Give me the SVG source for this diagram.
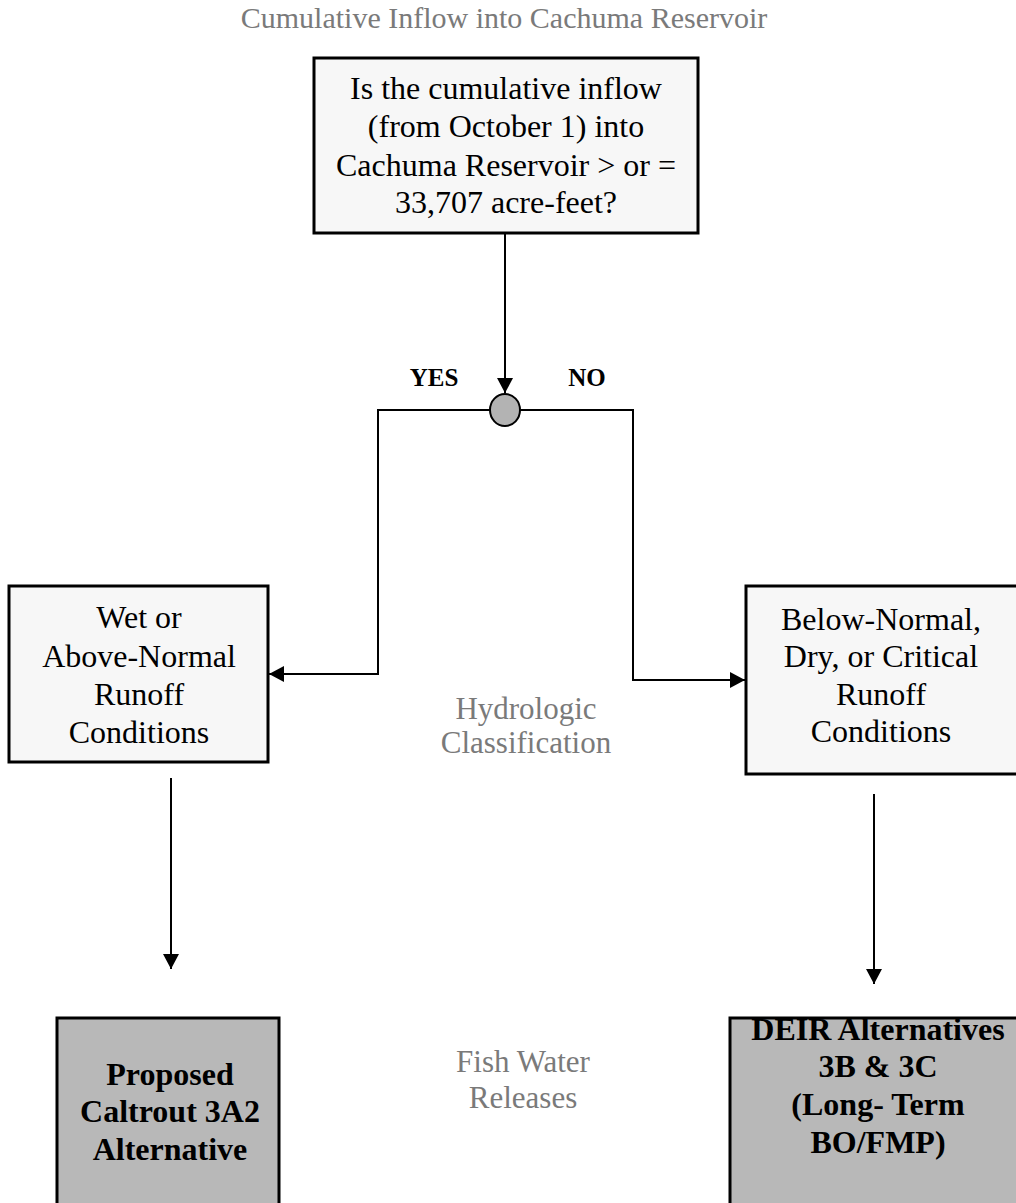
<svg xmlns="http://www.w3.org/2000/svg" width="1016" height="1203" viewBox="0 0 1016 1203">
<style>
.box{fill:#f7f7f7;stroke:#000;stroke-width:3}
.dark{fill:#b8b8b8;stroke:#000;stroke-width:3}
.t{font-family:"Liberation Serif","Times New Roman",serif;font-size:32px;fill:#000;text-anchor:middle}
.b{font-weight:bold}
.g{fill:#7a7a7a;font-size:31px}
.lbl{font-size:25px}
.c{fill:none;stroke:#000;stroke-width:2}
</style>
<defs>
<marker id="ah" markerUnits="userSpaceOnUse" markerWidth="16" markerHeight="16" refX="15" refY="8" orient="auto">
<path d="M0,0 L15,8 L0,16 Z" fill="#000"/>
</marker>
</defs>
<rect width="1016" height="1203" fill="#fff"/>
<text class="t g" x="504" y="28" style="font-size:30px">Cumulative Inflow into Cachuma Reservoir</text>
<g id="q">
<rect class="box" x="314" y="58" width="384" height="175"/>
<text class="t" x="506" y="99">Is the cumulative inflow</text>
<text class="t" x="506" y="137">(from October 1) into</text>
<text class="t" x="506" y="176">Cachuma Reservoir &gt; or =</text>
<text class="t" x="506" y="213">33,707 acre-feet?</text>
</g>
<g id="decision">
<ellipse cx="505" cy="410" rx="15" ry="16" fill="#b3b3b3" stroke="#000" stroke-width="2"/>
</g>
<g id="wet">
<rect class="box" x="9" y="586" width="259" height="176"/>
<text class="t" x="139" y="628">Wet or</text>
<text class="t" x="139" y="667">Above-Normal</text>
<text class="t" x="139" y="705">Runoff</text>
<text class="t" x="139" y="743">Conditions</text>
</g>
<g id="dry">
<rect class="box" x="746" y="586" width="272" height="188"/>
<text class="t" x="881" y="630">Below-Normal,</text>
<text class="t" x="881" y="667">Dry, or Critical</text>
<text class="t" x="881" y="705">Runoff</text>
<text class="t" x="881" y="742">Conditions</text>
</g>
<g id="hydro">
<text class="t g" x="526" y="719">Hydrologic</text>
<text class="t g" x="526" y="753">Classification</text>
</g>
<g id="fish">
<text class="t g" x="523" y="1072">Fish Water</text>
<text class="t g" x="523" y="1108">Releases</text>
</g>
<g id="caltrout">
<rect class="dark" x="57" y="1018" width="222" height="200"/>
<text class="t b" x="170" y="1085">Proposed</text>
<text class="t b" x="170" y="1122">Caltrout 3A2</text>
<text class="t b" x="170" y="1160">Alternative</text>
</g>
<g id="deir">
<rect class="dark" x="730" y="1018" width="290" height="200"/>
<text class="t b" x="878" y="1040">DEIR Alternatives</text>
<text class="t b" x="878" y="1077">3B &amp; 3C</text>
<text class="t b" x="878" y="1115">(Long- Term</text>
<text class="t b" x="878" y="1153">BO/FMP)</text>
</g>
<g id="connectors">
<path class="c" d="M505,233 V393" marker-end="url(#ah)"/>
<path class="c" d="M490,410 H378 V674 H269" marker-end="url(#ah)"/>
<path class="c" d="M520,410 H633 V680 H745" marker-end="url(#ah)"/>
<path class="c" d="M171,778 V969" marker-end="url(#ah)"/>
<path class="c" d="M874,794 V984" marker-end="url(#ah)"/>
<text class="t b lbl" x="434" y="386">YES</text>
<text class="t b lbl" x="587" y="386">NO</text>
</g>
</svg>
